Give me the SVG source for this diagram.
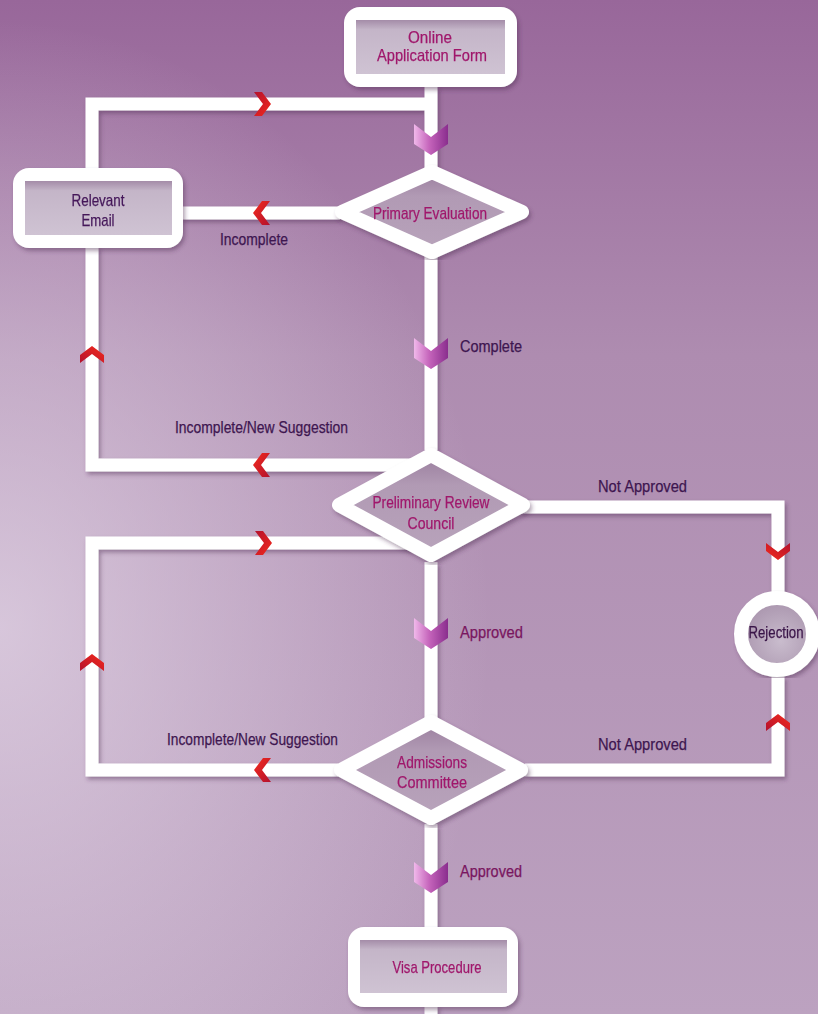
<svg xmlns="http://www.w3.org/2000/svg" width="818" height="1014" viewBox="0 0 818 1014">
<defs>
<linearGradient id="bg" x1="0" y1="0" x2="0" y2="1">
<stop offset="0" stop-color="#98679a"/>
<stop offset="0.35" stop-color="#ae8cb0"/>
<stop offset="1" stop-color="#bca2c0"/>
</linearGradient>
<radialGradient id="glow" cx="0" cy="0.62" r="0.6">
<stop offset="0" stop-color="#e6dbea" stop-opacity="0.7"/>
<stop offset="1" stop-color="#e6dbea" stop-opacity="0"/>
</radialGradient>
<linearGradient id="inner" x1="0" y1="0" x2="0" y2="1">
<stop offset="0" stop-color="#a48ca8"/>
<stop offset="0.18" stop-color="#c4b5c8"/>
<stop offset="1" stop-color="#cfc3d3"/>
</linearGradient>
<linearGradient id="dinner" x1="0" y1="0" x2="0" y2="1">
<stop offset="0" stop-color="#9a7e9e"/>
<stop offset="0.3" stop-color="#b19ab4"/>
<stop offset="1" stop-color="#b8a3bb"/>
</linearGradient>
<radialGradient id="cinner" cx="0.55" cy="0.6" r="0.6">
<stop offset="0" stop-color="#c9bccd"/>
<stop offset="1" stop-color="#a893ac"/>
</radialGradient>
<linearGradient id="red" x1="0" y1="0" x2="1" y2="1">
<stop offset="0" stop-color="#b3122e"/>
<stop offset="1" stop-color="#f42a1c"/>
</linearGradient>
<linearGradient id="pur" x1="0" y1="0" x2="1" y2="0">
<stop offset="0" stop-color="#f0b8ea"/>
<stop offset="0.45" stop-color="#c564bb"/>
<stop offset="1" stop-color="#8a2e8e"/>
</linearGradient>
<filter id="sh" x="-10%" y="-10%" width="120%" height="120%">
<feDropShadow dx="2" dy="3" stdDeviation="2" flood-color="#4e2c52" flood-opacity="0.45"/>
</filter>
<polygon id="rchev" points="-8,-12 0,-12 9,0 0,12 -8,12 1,0" fill="url(#red)"/>
<polygon id="pchev" points="-17,-15 0,-2 17,-15 17,5 0,16 -17,5" fill="url(#pur)"/>
<style>
.ln{fill:none;stroke:#ffffff;stroke-width:13;stroke-linejoin:miter}
.box{fill:#ffffff}
.dia{fill:url(#dinner);stroke:#ffffff;stroke-width:14;stroke-linejoin:round}
.nt{font-family:"Liberation Sans",Arial,sans-serif;font-size:17px;fill:#a0186c;stroke:#a0186c;stroke-width:0.25;text-anchor:middle}
.lb{font-family:"Liberation Sans",Arial,sans-serif;font-size:17px;fill:#3e1650;stroke:#3e1650;stroke-width:0.25}
.dk{font-family:"Liberation Sans",Arial,sans-serif;font-size:17px;fill:#45185a;stroke:#45185a;stroke-width:0.25;text-anchor:middle}
</style>
</defs>
<rect width="818" height="1014" fill="url(#bg)"/>
<rect width="818" height="1014" fill="url(#glow)"/>

<g id="connectors" filter="url(#sh)">
<path class="ln" d="M431,86 V170"/>
<path class="ln" d="M340,213 H180"/>
<path class="ln" d="M92,170 V104 H431"/>
<path class="ln" d="M431,256 V450"/>
<path class="ln" d="M412,465 H92 V246"/>
<path class="ln" d="M520,507 H778 V592"/>
<path class="ln" d="M431,562 V720"/>
<path class="ln" d="M525,770 H778 V676"/>
<path class="ln" d="M338,770 H92 V543 H412"/>
<path class="ln" d="M431,824 V930"/>
<path class="ln" d="M431,1005 V1014"/>
</g>

<g id="arrows">
<use href="#rchev" transform="translate(262,104)"/>
<use href="#rchev" transform="translate(262,213) rotate(180)"/>
<use href="#rchev" transform="translate(92,355) rotate(-90)"/>
<use href="#rchev" transform="translate(262,465) rotate(180)"/>
<use href="#rchev" transform="translate(778,551) rotate(90)"/>
<use href="#rchev" transform="translate(263,543)"/>
<use href="#rchev" transform="translate(92,663) rotate(-90)"/>
<use href="#rchev" transform="translate(263,770) rotate(180)"/>
<use href="#rchev" transform="translate(778,723) rotate(-90)"/>
<use href="#pchev" transform="translate(431,139)"/>
<use href="#pchev" transform="translate(431,353)"/>
<use href="#pchev" transform="translate(431,633)"/>
<use href="#pchev" transform="translate(431,877)"/>
</g>

<g id="labels">
<text class="lb" x="220" y="245" textLength="68" lengthAdjust="spacingAndGlyphs">Incomplete</text>
<text class="lb" x="460" y="352" textLength="62" lengthAdjust="spacingAndGlyphs">Complete</text>
<text class="lb" x="175" y="433" textLength="173" lengthAdjust="spacingAndGlyphs">Incomplete/New Suggestion</text>
<text class="lb" x="598" y="492" textLength="89" lengthAdjust="spacingAndGlyphs">Not Approved</text>
<text class="lb" x="460" y="638" textLength="63" lengthAdjust="spacingAndGlyphs" style="fill:#7a1660;stroke:#7a1660">Approved</text>
<text class="lb" x="167" y="745" textLength="171" lengthAdjust="spacingAndGlyphs">Incomplete/New Suggestion</text>
<text class="lb" x="598" y="750" textLength="89" lengthAdjust="spacingAndGlyphs">Not Approved</text>
<text class="lb" x="460" y="877" textLength="62" lengthAdjust="spacingAndGlyphs" style="fill:#7a1660;stroke:#7a1660">Approved</text>
</g>

<g id="online" filter="url(#sh)">
<rect class="box" x="344" y="7" width="173" height="80" rx="16"/>
<rect x="356" y="20" width="149" height="54" fill="url(#inner)"/>
<text class="nt" x="430" y="43" textLength="44" lengthAdjust="spacingAndGlyphs">Online</text>
<text class="nt" x="432" y="61" textLength="110" lengthAdjust="spacingAndGlyphs">Application Form</text>
</g>

<g id="email" filter="url(#sh)">
<rect class="box" x="13" y="168" width="170" height="80" rx="16"/>
<rect x="25" y="181" width="147" height="54" fill="url(#inner)"/>
<text class="dk" x="98" y="206" textLength="53" lengthAdjust="spacingAndGlyphs">Relevant</text>
<text class="dk" x="98" y="226" textLength="33" lengthAdjust="spacingAndGlyphs">Email</text>
</g>

<g id="primary" filter="url(#sh)">
<polygon class="dia" points="432,172 522,212 432,252 342,212"/>
<text class="nt" x="430" y="219" textLength="114" lengthAdjust="spacingAndGlyphs">Primary Evaluation</text>
</g>

<g id="preliminary" filter="url(#sh)">
<polygon class="dia" points="431,455 523,505 431,555 339,505"/>
<text class="nt" x="431" y="508" textLength="117" lengthAdjust="spacingAndGlyphs">Preliminary Review</text>
<text class="nt" x="431" y="529" textLength="47" lengthAdjust="spacingAndGlyphs">Council</text>
</g>

<g id="rejection" filter="url(#sh)">
<circle cx="777" cy="634" r="36" fill="url(#cinner)" stroke="#ffffff" stroke-width="14"/>
<text class="dk" x="776" y="638" textLength="55" lengthAdjust="spacingAndGlyphs" style="fill:#3a1448;stroke:#3a1448">Rejection</text>
</g>

<g id="admissions" filter="url(#sh)">
<polygon class="dia" points="431,722 521,770 431,818 341,770"/>
<text class="nt" x="432" y="768" textLength="70" lengthAdjust="spacingAndGlyphs">Admissions</text>
<text class="nt" x="432" y="788" textLength="70" lengthAdjust="spacingAndGlyphs">Committee</text>
</g>

<g id="visa" filter="url(#sh)">
<rect class="box" x="348" y="927" width="170" height="80" rx="16"/>
<rect x="360" y="940" width="147" height="53" fill="url(#inner)"/>
<text class="nt" x="437" y="973" textLength="89" lengthAdjust="spacingAndGlyphs">Visa Procedure</text>
</g>
</svg>
